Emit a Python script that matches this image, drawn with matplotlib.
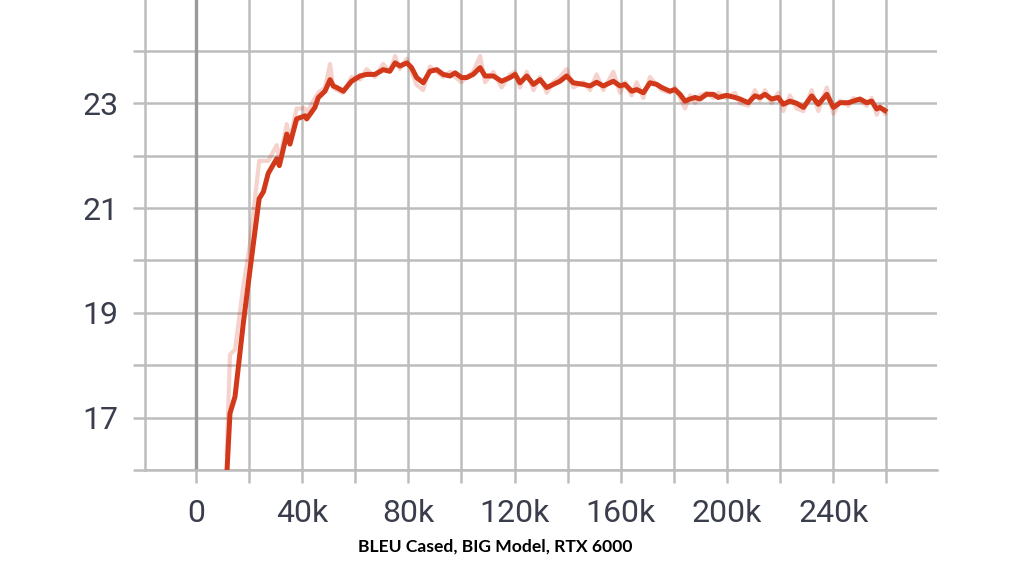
import matplotlib
matplotlib.use('Agg')
import matplotlib.pyplot as plt
from matplotlib.ticker import MultipleLocator, FuncFormatter

# Eval steps (thousands) and BLEU values
STEPS_K = [11.6, 12.8, 14.7, 17.8, 20.3, 23.8, 25.4, 27.2, 30.4, 31.4, 34.2, 35.4,
           37.9, 41.1, 41.7, 44.8, 46.1, 48.6, 50.5, 51.7, 53.0, 55.5, 58.6, 61.8,
           64.3, 67.4, 70.5, 73.0, 75.0, 76.8, 79.4, 81.2, 83.1, 85.6, 88.1, 90.7,
           93.1, 95.7, 97.6, 100.0, 102.0, 104.4, 107.0, 108.9, 112.0, 115.1, 118.3,
           120.2, 122.0, 124.6, 127.1, 129.6, 132.1, 134.6, 137.1, 139.6, 142.1,
           145.9, 148.4, 150.9, 153.4, 157.2, 159.7, 161.6, 164.1, 166.0, 168.5,
           171.0, 173.5, 175.4, 178.5, 180.4, 182.3, 184.2, 186.1, 188.0, 189.8,
           192.3, 194.8, 196.7, 199.8, 203.0, 204.9, 208.0, 210.5, 212.4, 214.3,
           216.8, 219.3, 221.2, 223.7, 226.2, 228.8, 231.9, 234.4, 237.6, 240.1,
           242.6, 245.7, 247.6, 250.1, 252.6, 254.5, 256.4, 257.6, 259.5]

# smoothed curve (bold line)
BLEU_SMOOTH = [15.90, 17.08, 17.40, 18.79, 19.80, 21.18, 21.31, 21.66, 21.94, 21.81,
               22.41, 22.22, 22.70, 22.76, 22.70, 22.92, 23.11, 23.23, 23.45, 23.33,
               23.30, 23.23, 23.42, 23.52, 23.55, 23.55, 23.64, 23.61, 23.77, 23.71,
               23.77, 23.68, 23.49, 23.39, 23.61, 23.64, 23.55, 23.52, 23.58, 23.49,
               23.49, 23.55, 23.68, 23.52, 23.52, 23.42, 23.49, 23.55, 23.39, 23.52,
               23.36, 23.45, 23.30, 23.36, 23.42, 23.52, 23.39, 23.36, 23.33, 23.40,
               23.33, 23.42, 23.33, 23.36, 23.23, 23.26, 23.20, 23.39, 23.36, 23.30,
               23.23, 23.26, 23.17, 23.04, 23.08, 23.11, 23.08, 23.17, 23.17, 23.11,
               23.15, 23.11, 23.08, 23.01, 23.14, 23.11, 23.17, 23.08, 23.11, 22.98,
               23.04, 23.00, 22.92, 23.14, 22.98, 23.17, 22.92, 23.01, 23.01, 23.04,
               23.08, 23.01, 23.04, 22.89, 22.92, 22.86]

# raw values (faint line)
BLEU_RAW = [16.30, 18.20, 18.30, 19.50, 20.30, 21.90, 21.90, 21.90, 22.20, 21.90,
            22.60, 22.30, 22.90, 22.90, 22.80, 23.10, 23.20, 23.30, 23.75, 23.30,
            23.25, 23.20, 23.50, 23.45, 23.65, 23.50, 23.75, 23.60, 23.90, 23.65,
            23.85, 23.60, 23.35, 23.25, 23.70, 23.60, 23.50, 23.60, 23.50, 23.40,
            23.50, 23.60, 23.90, 23.40, 23.60, 23.30, 23.55, 23.60, 23.30, 23.60,
            23.25, 23.50, 23.20, 23.40, 23.50, 23.65, 23.30, 23.40, 23.25, 23.55,
            23.25, 23.60, 23.20, 23.40, 23.15, 23.40, 23.10, 23.50, 23.35, 23.25,
            23.20, 23.30, 23.10, 22.90, 23.15, 23.00, 23.15, 23.20, 23.10, 23.20,
            23.10, 23.20, 23.00, 22.95, 23.25, 23.05, 23.25, 23.00, 23.20, 22.85,
            23.15, 22.90, 22.85, 23.25, 22.85, 23.30, 22.80, 23.05, 22.95, 23.10,
            23.05, 22.95, 23.10, 22.78, 22.95, 22.80]

TITLE = 'BLEU Cased, BIG Model, RTX 6000'

LINE_COLOR = '#d2381a'
GRID_COLOR = '#bdbdbd'
TEXT_COLOR = '#3a3d4c'

steps = [s * 1000 for s in STEPS_K]

fig = plt.figure(figsize=(10.24, 5.76), dpi=100)
ax = fig.add_axes([145 / 1024, 1 - 470 / 576, (937 - 145) / 1024, 470 / 576])

ax.plot(steps, BLEU_RAW, color=LINE_COLOR, alpha=0.22, linewidth=3.0,
        solid_joinstyle='round', zorder=3)
ax.plot(steps, BLEU_SMOOTH, color=LINE_COLOR, linewidth=3.6,
        solid_joinstyle='round', zorder=4)

# zero line
ax.axvline(0, color='#9a9a9a', linewidth=2.4, zorder=2)

ax.set_xlim(-19.2e3, 279.1e3)
ax.set_ylim(16.07, 24.97)

ax.xaxis.set_major_locator(MultipleLocator(40e3))
ax.xaxis.set_minor_locator(MultipleLocator(20e3))
ax.xaxis.set_major_formatter(
    FuncFormatter(lambda v, p: '0' if abs(v) < 1 else f'{v / 1000:.0f}k'))

# labels on odd values, grid every 1
ax.set_yticks([17, 19, 21, 23])
ax.set_yticks([16, 18, 20, 22, 24], minor=True)
ax.yaxis.set_major_formatter(FuncFormatter(lambda v, p: f'{v:.0f}'))

ax.grid(True, which='both', color=GRID_COLOR, linewidth=1.8, zorder=1)
ax.set_axisbelow(True)

for side in ('top', 'right'):
    ax.spines[side].set_visible(False)
for side in ('left', 'bottom'):
    ax.spines[side].set_color(GRID_COLOR)
    ax.spines[side].set_linewidth(1.8)

ax.tick_params(which='both', length=9, width=1.8, color=GRID_COLOR)
ax.tick_params(axis='x', which='both', pad=12, labelsize=23, labelcolor=TEXT_COLOR)
ax.tick_params(axis='y', which='both', pad=10, labelsize=23, labelcolor=TEXT_COLOR)
for lab in ax.get_xticklabels() + ax.get_yticklabels():
    lab.set_family(['Roboto', 'DejaVu Sans'])

fig.text(495 / 1024, 1 - 547 / 576, TITLE, ha='center', va='center',
         fontsize=12.6, fontweight='bold', family=['Lato', 'DejaVu Sans'],
         color='black')

fig.savefig('out.png', dpi=100)
